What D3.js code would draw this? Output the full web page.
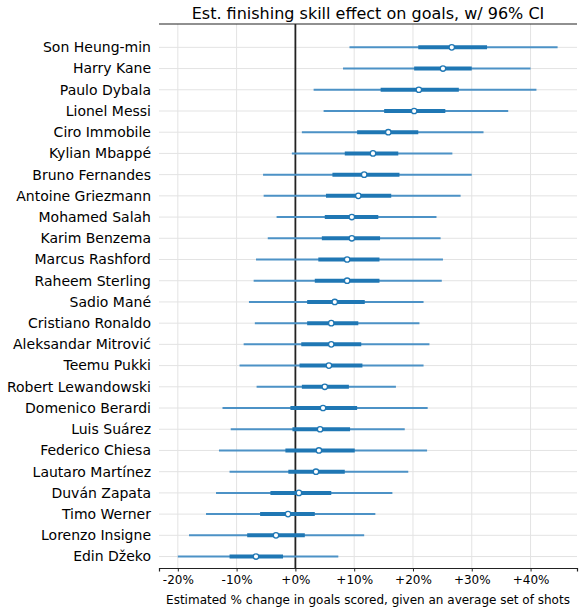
<!DOCTYPE html>
<html>
<head>
<meta charset="utf-8">
<script src="https://d3js.org/d3.v7.min.js"></script>
<style>
  body { margin: 0; background: #fff; }
  text { font-family: "DejaVu Sans", sans-serif; fill: #000; }
</style>
</head>
<body>
<div id="chart"></div>
<script>
// ---------------- DATA ----------------
var players = ["Son Heung-min", "Harry Kane", "Paulo Dybala", "Lionel Messi", "Ciro Immobile",
  "Kylian Mbappé", "Bruno Fernandes", "Antoine Griezmann", "Mohamed Salah", "Karim Benzema",
  "Marcus Rashford", "Raheem Sterling", "Sadio Mané", "Cristiano Ronaldo", "Aleksandar Mitrović",
  "Teemu Pukki", "Robert Lewandowski", "Domenico Berardi", "Luis Suárez", "Federico Chiesa",
  "Lautaro Martínez", "Duván Zapata", "Timo Werner", "Lorenzo Insigne", "Edin Džeko"];

// point estimate (%)
var estimate = [26.6, 25.1, 21.0, 20.2, 15.8, 13.2, 11.7, 10.7, 9.6, 9.6,
  8.8, 8.8, 6.7, 6.1, 6.1, 5.7, 5.0, 4.7, 4.2, 4.0, 3.5, 0.6, -1.25, -3.3, -6.7];
// 96% interval
var ciLow = [9.2, 8.1, 3.1, 4.8, 1.1, -0.6, -5.5, -5.4, -3.2, -4.7,
  -6.7, -7.1, -7.9, -6.9, -8.8, -9.5, -6.6, -12.4, -11.0, -13.0, -11.2, -13.5, -15.2, -18.1, -20.0];
var ciHigh = [44.6, 40.0, 41.0, 36.2, 32.0, 26.7, 30.0, 28.1, 24.0, 24.7,
  25.1, 24.9, 21.8, 21.1, 22.8, 21.8, 17.1, 22.5, 18.6, 22.4, 19.2, 16.5, 13.6, 11.7, 7.3];
// inner interval (thick bar)
var innerLow = [20.9, 20.2, 14.5, 15.1, 10.5, 8.4, 6.3, 5.2, 5.0, 4.5,
  3.9, 3.3, 2.0, 2.0, 1.0, 0.7, 1.1, -0.85, -0.5, -1.7, -1.2, -4.25, -6.0, -8.2, -11.2];
var innerHigh = [32.6, 30.0, 27.8, 25.5, 20.9, 17.5, 17.7, 16.3, 14.1, 14.4,
  14.3, 14.3, 11.8, 10.7, 11.2, 11.4, 9.1, 10.5, 9.3, 10.1, 8.4, 6.1, 3.3, 1.6, -2.1];

var xTicks = [-20, -10, 0, 10, 20, 30, 40];

var data = players.map(function(p, i) {
  return {name: p, i: i, est: estimate[i], lo: ciLow[i], hi: ciHigh[i],
          ilo: innerLow[i], ihi: innerHigh[i]};
});

// ---------------- CANVAS ----------------
var svgWidth = 584, svgHeight = 612;
var margin = {left: 159, right: 7, top: 24, bottom: 44};
var chartWidth = svgWidth - margin.left - margin.right,
    chartHeight = svgHeight - margin.top - margin.bottom;

var svg = d3.select("#chart").append("svg")
  .attr("width", svgWidth)
  .attr("height", svgHeight);

var chart = svg.append("g")
  .attr("transform", `translate(${margin.left}, ${margin.top})`);

// ---------------- SCALES ----------------
var x = d3.scaleLinear().domain([-23.2, 47.9]).range([0, chartWidth]);
var y = d3.scaleLinear().domain([-1.1, 24.54]).range([0, chartHeight]);

// ---------------- GRID ----------------
chart.append("g").selectAll("line")
  .data(xTicks).enter().append("line")
    .attr("x1", d => x(d)).attr("x2", d => x(d))
    .attr("y1", 0).attr("y2", chartHeight)
    .attr("stroke", "#e3e3e3").attr("stroke-width", 1);

chart.append("g").selectAll("line")
  .data(data).enter().append("line")
    .attr("x1", 0).attr("x2", chartWidth)
    .attr("y1", d => y(d.i)).attr("y2", d => y(d.i))
    .attr("stroke", "#e3e3e3").attr("stroke-width", 1);

// ---------------- AXES ----------------
var xAxis = d3.axisBottom(x).tickValues(xTicks)
  .tickFormat(d => (d >= 0 ? "+" : "") + d + "%")
  .tickSize(3.5).tickPadding(4);

var gx = chart.append("g")
  .attr("transform", `translate(0, ${chartHeight})`)
  .call(xAxis);
gx.select(".domain").attr("stroke", "#222").attr("stroke-width", 1.2);
gx.selectAll(".tick line").attr("stroke", "#222");
gx.selectAll("text").style("font-size", "12px").attr("fill", "#000")
  .style("font-family", "DejaVu Sans, sans-serif");

// top spine
chart.append("line")
  .attr("x1", 0).attr("x2", chartWidth).attr("y1", 0).attr("y2", 0)
  .attr("stroke", "#222").attr("stroke-width", 1.2);

// player labels
chart.append("g").selectAll("text")
  .data(data).enter().append("text")
    .attr("x", -8)
    .attr("y", d => y(d.i))
    .attr("dy", "0.35em")
    .attr("text-anchor", "end")
    .style("font-size", "14px")
    .text(d => d.name);

// zero line
chart.append("line")
  .attr("x1", x(0)).attr("x2", x(0))
  .attr("y1", 0).attr("y2", chartHeight)
  .attr("stroke", "#222").attr("stroke-width", 1.8);

// ---------------- MARKS ----------------
chart.append("g").selectAll("line")
  .data(data).enter().append("line")
    .attr("x1", d => x(d.lo)).attr("x2", d => x(d.hi))
    .attr("y1", d => y(d.i)).attr("y2", d => y(d.i))
    .attr("stroke", "#4c92c6").attr("stroke-width", 2);

chart.append("g").selectAll("line")
  .data(data).enter().append("line")
    .attr("x1", d => x(d.ilo)).attr("x2", d => x(d.ihi))
    .attr("y1", d => y(d.i)).attr("y2", d => y(d.i))
    .attr("stroke", "#1f77b4").attr("stroke-width", 4);

chart.append("g").selectAll("circle")
  .data(data).enter().append("circle")
    .attr("cx", d => x(d.est))
    .attr("cy", d => y(d.i))
    .attr("r", 2.7)
    .attr("fill", "#fff")
    .attr("stroke", "#1f77b4")
    .attr("stroke-width", 1.3);

// ---------------- TITLES ----------------
svg.append("text")
  .attr("x", margin.left + chartWidth / 2)
  .attr("y", 19)
  .attr("text-anchor", "middle")
  .style("font-size", "16px")
  .text("Est. finishing skill effect on goals, w/ 96% CI");

svg.append("text")
  .attr("x", margin.left + chartWidth / 2)
  .attr("y", 604)
  .attr("text-anchor", "middle")
  .style("font-size", "12px")
  .text("Estimated % change in goals scored, given an average set of shots");
</script>
</body>
</html>
